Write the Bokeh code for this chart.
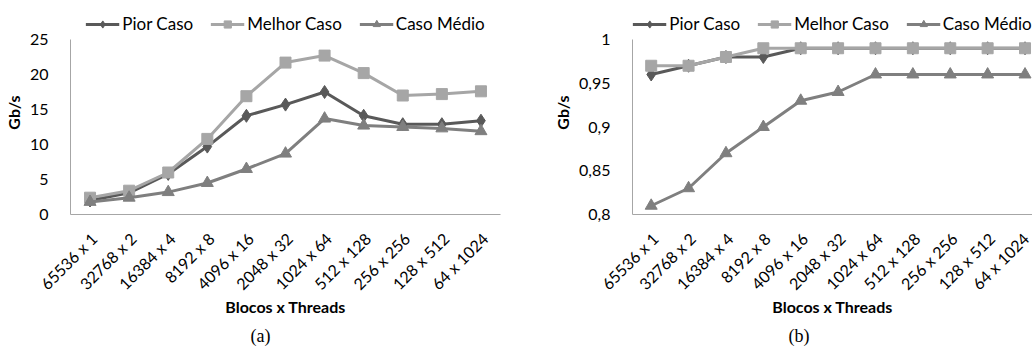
import math
from bokeh.plotting import figure
from bokeh.models import (Range1d, FixedTicker, Legend, LegendItem, Title, CustomJSTickFormatter)
from bokeh.layouts import row
from bokeh.embed import file_html
from bokeh.resources import INLINE

categories = ["65536 x 1", "32768 x 2", "16384 x 4", "8192 x 8", "4096 x 16", "2048 x 32",
              "1024 x 64", "512 x 128", "256 x 256", "128 x 512", "64 x 1024"]
series_names = ["Pior Caso", "Melhor Caso", "Caso Médio"]

pior_a = [2.0, 3.1, 5.8, 9.7, 14.1, 15.7, 17.5, 14.1, 12.9, 12.9, 13.4]
melhor_a = [2.4, 3.4, 6.0, 10.8, 16.9, 21.7, 22.7, 20.2, 17.0, 17.2, 17.6]
medio_a = [1.8, 2.4, 3.2, 4.5, 6.5, 8.7, 13.7, 12.7, 12.5, 12.3, 11.9]

pior_b = [0.96, 0.97, 0.98, 0.98, 0.99, 0.99, 0.99, 0.99, 0.99, 0.99, 0.99]
melhor_b = [0.97, 0.97, 0.98, 0.99, 0.99, 0.99, 0.99, 0.99, 0.99, 0.99, 0.99]
medio_b = [0.81, 0.83, 0.87, 0.90, 0.93, 0.94, 0.96, 0.96, 0.96, 0.96, 0.96]

y_ticks_a = [0, 5, 10, 15, 20, 25]
y_ticks_b = [0.8, 0.85, 0.9, 0.95, 1.0]
x_title = "Blocos x Threads"
y_title = "Gb/s"
captions = ["(a)", "(b)"]

colors = ["#595959", "#A6A6A6", "#7F7F7F"]
markers = ["diamond", "square", "triangle"]
msizes = [13, 11, 12]
FONT = "Lato"
AXIS_COLOR = "#A6A6A6"

AXIS_H = 175       # px covered by the value axis
TOP_PAD = 29       # px of frame above the value axis (legend room)
LABEL_NUDGE = 4    # px: rotated category labels end slightly right of their category


def make_fig(frame_w, border_left, border_right, x_end, y_lo, y_hi, yticks, series,
             caption, cap_offset, comma):
    per_px = (y_hi - y_lo) / AXIS_H
    spacing = frame_w / (x_end + 0.5)
    p = figure(frame_width=frame_w, frame_height=AXIS_H + TOP_PAD,
               output_backend="svg", toolbar_location=None, title=None,
               x_range=Range1d(-0.5, x_end),
               y_range=Range1d(y_lo, y_hi + TOP_PAD * per_px),
               min_border_left=border_left, min_border_right=border_right,
               min_border_top=10, min_border_bottom=110)
    p.outline_line_color = None
    p.xgrid.visible = False
    p.ygrid.visible = False
    xs = list(range(len(categories)))
    items = []
    for name, ys, c, m, s in zip(series_names, series, colors, markers, msizes):
        lr = p.line(xs, ys, line_color=c, line_width=3)
        sr = p.scatter(xs, ys, marker=m, size=s, fill_color=c, line_color=c)
        items.append(LegendItem(label=name, renderers=[lr, sr]))
    legend = Legend(items=items, orientation="horizontal", location="top_center",
                    glyph_width=34, glyph_height=18, label_standoff=3, spacing=17,
                    padding=0, margin=3, border_line_color=None, background_fill_alpha=0,
                    label_text_font=FONT, label_text_font_size="17px",
                    label_text_color="#000000")
    p.add_layout(legend, "center")

    for ax in (p.xaxis[0], p.yaxis[0]):
        ax.axis_line_color = AXIS_COLOR
        ax.axis_line_width = 1
        ax.major_tick_line_color = None
        ax.minor_tick_line_color = None
        ax.major_label_text_font = FONT
        ax.major_label_text_font_size = "16px"
        ax.major_label_text_color = "#000000"
        ax.axis_label_text_font = FONT
        ax.axis_label_text_font_size = "16px"
        ax.axis_label_text_font_style = "bold"
        ax.axis_label_text_color = "#000000"

    nudge = LABEL_NUDGE / spacing
    p.xaxis.ticker = FixedTicker(ticks=[i + nudge for i in xs])
    p.xaxis.formatter = CustomJSTickFormatter(
        args=dict(labels=categories),
        code="return labels[Math.round(tick)];")
    p.xaxis.major_label_orientation = math.pi / 4
    p.xaxis.major_label_standoff = 15
    p.xaxis.axis_label = x_title
    p.xaxis.axis_label_standoff = -6

    p.yaxis.ticker = FixedTicker(ticks=yticks)
    p.yaxis.bounds = (y_lo, y_hi)
    p.yaxis.major_label_standoff = 16
    p.yaxis.axis_label = y_title
    p.yaxis.axis_label_standoff = 4
    if comma:
        p.yaxis.formatter = CustomJSTickFormatter(
            code="return String(Math.round(tick*100)/100).replace('.', ',');")

    p.add_layout(Title(text=caption, align="left", offset=cap_offset,
                       text_font="Liberation Serif", text_font_size="18px",
                       text_font_style="normal", text_color="#000000"), "below")
    return p


pa = make_fig(430, 58, 50, 10.5, 0, 25, y_ticks_a,
              [pior_a, melhor_a, medio_a], captions[0], 180, False)
pb = make_fig(400, 79, 0, 10.2, 0.8, 1.0, y_ticks_b,
              [pior_b, melhor_b, medio_b], captions[1], 156, True)

layout = row(pa, pb)
open("out.html", "w").write(file_html(layout, INLINE))
